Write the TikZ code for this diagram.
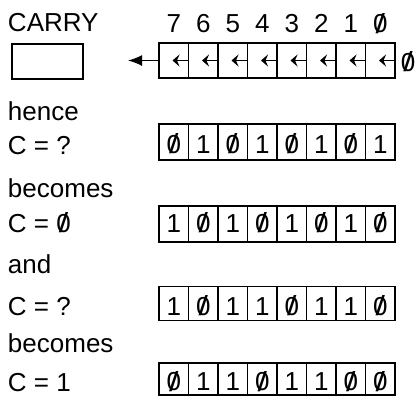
\documentclass[tikz,border=0pt]{standalone}
\usepackage{fontspec}
\setmainfont{Liberation Sans}
\usetikzlibrary{arrows.meta}
\newcommand{\zr}{\ooalign{0\cr\hidewidth\raisebox{-0.8pt}{\scalebox{1.3}[1.06]{/}}\hidewidth}}
\begin{document}
\begin{tikzpicture}[x=1pt,y=-1pt,
  txt/.style={font=\fontsize{26}{30}\selectfont, inner sep=0pt, outer sep=0pt},
  lbl/.style={txt, anchor=base west},
  dig/.style={txt, anchor=base},
  cellbox/.style={draw, line width=1.2pt, rectangle, inner sep=0pt, outer sep=0pt, minimum width=29.5pt},
  shiftarrow/.style={line width=1.6pt, -{Stealth[length=7pt,width=12pt,inset=2.5pt]}},
  mainarrow/.style={line width=1.5pt, -{Latex[length=14pt,width=11pt]}}]
\useasboundingbox (0,0) rectangle (419,396);
% labels
\node[lbl] (carrylbl) at (8,31) {CARRY};
\node[lbl] (hence) at (8,120) {hence};
\node[lbl] (c1) at (8,154) {C = ?};
\node[lbl] (becomes1) at (8,197) {becomes};
\node[lbl] (c2) at (8,232) {C = \zr};
\node[lbl] (and) at (8,273) {and};
\node[lbl] (c3) at (8,315) {C = ?};
\node[lbl] (becomes2) at (8,352) {becomes};
\node[lbl] (c4) at (8,391) {C = 1};
% carry box
\node[cellbox, minimum width=71pt, minimum height=35pt] (carry) at (47.5,61.5) {};
% top register
\foreach \b [count=\i from 0] in {7,6,5,4,3,2,1,\zr}{
  \node[cellbox, minimum height=35pt] (top\i) at ({159+29.5*(\i+0.5)},60.5) {};
  \node[dig] (hd\i) at ({159+29.5*(\i+0.5)},33) {\b};
  \draw[shiftarrow] ([xshift=-1pt]top\i.east) -- ++(-15,0);
}
\node[dig] (inzero) at (408,71) {\zr};
\coordinate (outtip) at (128,60.5);
\draw[mainarrow] (top0.west) -- (outtip);
% data registers
\foreach \row/\yc/\h/\base/\bits in {
  a/142/36/153/{\zr,1,\zr,1,\zr,1,\zr,1},
  b/224/36/232/{1,\zr,1,\zr,1,\zr,1,\zr},
  c/303.5/34/315/{1,\zr,1,1,\zr,1,1,\zr},
  d/379/32/390.5/{\zr,1,1,\zr,1,1,\zr,\zr}}{
  \foreach \b [count=\i from 0] in \bits {
    \node[cellbox, minimum height=\h pt] (\row\i) at ({159+29.5*(\i+0.5)},\yc) {};
    \node[dig] (\row d\i) at ({159+29.5*(\i+0.5)},\base) {\b};
  }
}
\end{tikzpicture}
\end{document}
